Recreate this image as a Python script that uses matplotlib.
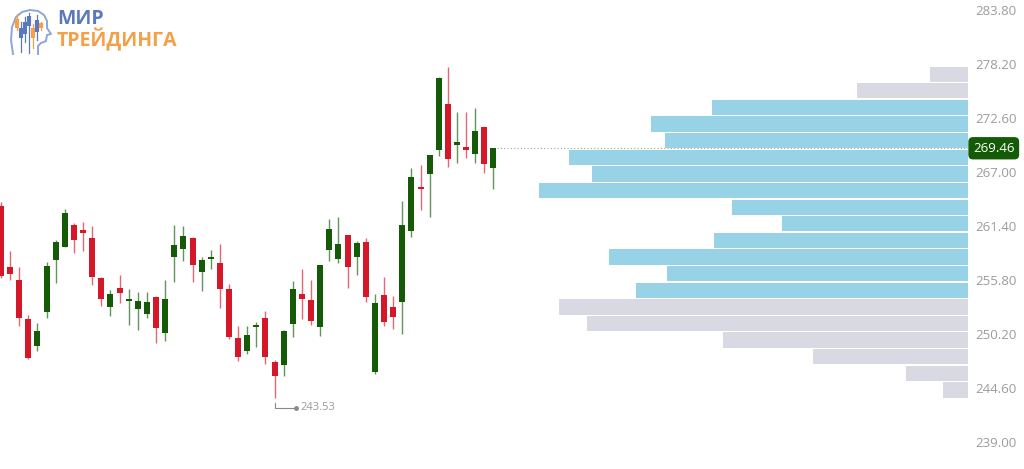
import numpy as np
import matplotlib.pyplot as plt
import matplotlib.transforms as mtransforms

plt.rcParams['font.family'] = ['Open Sans', 'DejaVu Sans']

# OHLC data (55 sessions)
opens = [263.47, 257.12, 255.80, 251.79, 248.95, 252.51, 257.87, 259.25, 261.53, 260.95,
         260.12, 256.04, 252.97, 254.94, 253.59, 252.82, 252.27, 254.00, 250.27, 258.21,
         258.98, 260.19, 256.66, 257.98, 257.59, 254.87, 249.75, 248.47, 250.96, 251.83,
         247.30, 246.98, 251.24, 254.32, 253.73, 250.96, 258.91, 257.98, 260.47, 258.21,
         259.71, 246.23, 254.24, 252.97, 253.49, 260.91, 265.44, 266.76, 269.28, 274.05,
         269.77, 269.56, 268.83, 271.70, 267.38]
highs = [263.92, 258.81, 257.18, 252.17, 251.37, 257.70, 259.95, 263.16, 261.74, 261.78,
         261.43, 256.10, 254.76, 256.32, 254.83, 254.59, 254.59, 254.14, 255.80, 261.50,
         261.40, 260.25, 258.21, 258.88, 259.53, 255.38, 251.06, 251.03, 251.47, 252.62,
         247.50, 250.61, 255.73, 256.97, 255.80, 257.35, 262.09, 262.36, 260.50, 259.84,
         260.19, 254.35, 256.14, 254.14, 263.99, 267.45, 267.72, 268.80, 276.82, 277.92,
         273.25, 273.19, 273.67, 271.75, 269.46]
lows = [256.01, 255.80, 251.03, 247.61, 248.44, 251.83, 255.52, 259.19, 258.63, 258.84,
        255.28, 253.10, 252.07, 253.38, 251.13, 250.61, 251.83, 249.30, 249.50, 255.56,
        257.77, 255.56, 254.66, 256.91, 252.86, 249.68, 247.40, 248.13, 248.82, 247.09,
        243.53, 245.88, 249.86, 251.79, 251.13, 250.02, 257.77, 257.53, 254.94, 256.32,
        253.49, 246.05, 251.03, 250.69, 250.20, 260.23, 263.06, 262.33, 268.66, 267.55,
        267.96, 268.48, 267.96, 266.86, 265.27]
closes = [256.21, 256.42, 251.89, 247.74, 250.51, 257.25, 259.77, 262.78, 259.95, 260.64,
          256.14, 253.80, 254.32, 254.48, 253.80, 253.62, 253.55, 250.79, 253.86, 259.43,
          260.39, 257.35, 257.87, 258.21, 254.83, 249.92, 247.78, 250.06, 251.16, 247.85,
          245.85, 250.54, 254.83, 253.86, 251.55, 257.32, 261.04, 259.53, 257.18, 259.61,
          254.00, 253.45, 251.41, 251.93, 261.47, 266.51, 265.27, 268.76, 276.71, 268.35,
          270.08, 269.28, 271.25, 267.83, 269.46]

# volume profile, 20 price bins from the low to the high (bottom -> top)
profile_low = 243.53
profile_high = 278.00
profile_volume = [25, 62, 155, 245, 381, 409, 332, 301, 359, 254,
                  186, 236, 429, 376, 399, 303, 317, 256, 111, 38]
value_area = [False] * 6 + [True] * 12 + [False] * 2

y_ticks = [239.00, 244.60, 250.20, 255.80, 261.40, 267.00, 272.60, 278.20, 283.80]

GREEN = '#145a07'
RED = '#d5172a'
BLUE_BAR = '#98d2e6'
GRAY_BAR = '#d9d9e3'
LABEL = '#9c9c9c'

fig = plt.figure(figsize=(10.24, 4.69), dpi=100)
ax = fig.add_axes([0, 0, 968 / 1024, 1])
ax.set_xlim(-0.11, 106.03)
ax.set_ylim(236.2, 284.835)

# volume profile in a twin axis (growing from the right edge)
ax2 = ax.twiny()
ax2.set_xlim(max(profile_volume) * 968 / 429, 0)
edges = np.linspace(profile_low, profile_high, len(profile_volume) + 1)
bw = edges[1] - edges[0]
centers = edges[:-1] + bw / 2
colors = [BLUE_BAR if v else GRAY_BAR for v in value_area]
ax2.barh(centers, profile_volume, height=bw * 0.92, color=colors, zorder=2)
ax2.axis('off')

# candles
x = np.arange(len(opens))
for i in x:
    o, h, l, c = opens[i], highs[i], lows[i], closes[i]
    col = GREEN if c >= o else RED
    ax.vlines(i, l, h, color=col, lw=1.0, alpha=0.65, zorder=3)
    body = max(abs(c - o), 0.18)
    ax.bar(i, body, bottom=min(o, c), width=0.66, color=col, zorder=4)

last = closes[-1]
ax.plot([x[-1] + 0.4, 106.03], [last, last], ls=(0, (1, 2)), color='#8ab583',
        lw=0.8, zorder=1)

# low marker
i_low = int(np.argmin(lows))
ax.plot([i_low, i_low, i_low + 2.4], [lows[i_low] - 0.5, lows[i_low] - 1.0, lows[i_low] - 1.0],
        color='#8a8a8a', lw=0.8, zorder=3)
ax.plot(i_low + 2.4, lows[i_low] - 1.0, 'o', ms=2.5, color='#8a8a8a', zorder=3)
ax.text(i_low + 2.8, lows[i_low] - 1.0, f'{lows[i_low]:.2f}', color='#9a9a9a',
        fontsize=8, va='center', ha='left')

# price axis on the right
ax.yaxis.tick_right()
ax.set_yticks(y_ticks)
ax.set_yticklabels([f'{t:.2f}' for t in y_ticks])
ax.tick_params(axis='y', length=0, pad=5, labelsize=9.5, labelcolor=LABEL)
ax.set_xticks([])
for s in ax.spines.values():
    s.set_visible(False)

trans = mtransforms.blended_transform_factory(ax.transAxes, ax.transData)
ax.text(1.0 + 5 / 968, last, f'{last:.2f}', transform=trans, color='white',
        fontsize=9.5, va='center', ha='left',
        bbox=dict(boxstyle='round,pad=0.3,rounding_size=0.3', fc=GREEN, ec=GREEN))

# logo
lax = fig.add_axes([0, 1 - 60 / 469, 60 / 1024, 60 / 469])
lax.set_xlim(0, 60)
lax.set_ylim(60, 0)
lax.axis('off')
head_x = [13, 11, 12, 16, 22, 30, 38, 44, 47, 47, 51, 47, 46, 41, 38, 38]
head_y = [54, 40, 27, 17, 12, 10, 11, 15, 21, 28, 34, 35, 41, 43, 46, 54]
lax.plot(head_x, head_y, color='#8ea5d6', lw=1.4)
icon = [(17, 14, 30, 19, 28, '#f5a048'), (21, 22, 52, 28, 38, '#5a79bd'),
        (25, 17, 42, 22, 34, '#5a79bd'), (29, 13, 53, 16, 26, '#5a79bd'),
        (33, 24, 48, 28, 38, '#f5a048'), (37, 15, 40, 20, 32, '#5a79bd'),
        (41, 22, 30, 23, 28, '#f5a048')]
for cx, top, bot, b0, b1, col in icon:
    lax.plot([cx, cx], [top, bot], color=col, lw=0.9)
    lax.plot([cx, cx], [b0, b1], color=col, lw=3.0, solid_capstyle='butt')

fig.text(57 / 1024, 1 - 19 / 469, 'МИР', color='#5a79bd', fontsize=14,
         fontweight='bold', va='center', ha='left')
fig.text(57 / 1024, 1 - 40 / 469, 'ТРЕЙДИНГА', color='#f5a048', fontsize=14,
         fontweight='bold', va='center', ha='left')

fig.savefig('out.png', dpi=100)
